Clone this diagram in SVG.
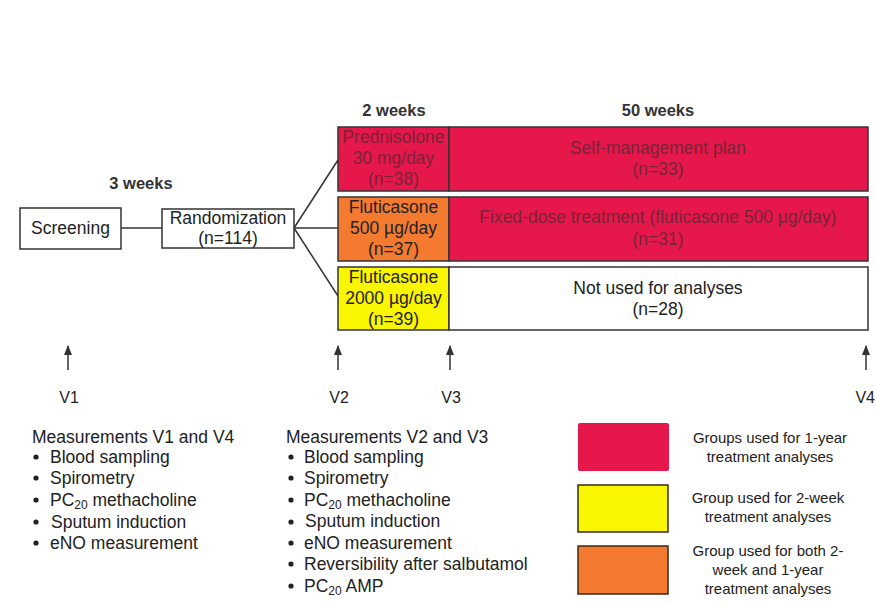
<svg xmlns="http://www.w3.org/2000/svg" width="875" height="605" viewBox="0 0 875 605">
<defs>
<style>
text{font-family:"Liberation Sans",Arial,sans-serif;fill:#222;}
.t{font-size:16px;text-anchor:middle;}
.b{font-size:17.5px;text-anchor:middle;}
.h{font-size:16.5px;font-weight:bold;text-anchor:middle;fill:#333;}
.r{fill:#7a2236;}
.box{stroke:#333;stroke-width:1.5;}
.line{stroke:#333;stroke-width:1.5;fill:none;}
.m{font-size:17.5px;}
.lg{font-size:15px;text-anchor:middle;}
</style>
<marker id="ah" markerWidth="10" markerHeight="8" refX="9" refY="4" orient="auto" markerUnits="userSpaceOnUse" viewBox="0 0 10 8">
<path d="M0,0 L10,4 L0,8 Z" fill="#333"/>
</marker>
</defs>
<rect width="875" height="605" fill="#fff"/>

<text class="h" x="141" y="189">3 weeks</text>
<text class="h" x="394" y="116">2 weeks</text>
<text class="h" x="658" y="116">50 weeks</text>

<g id="connectors">
<line class="line" x1="121" y1="228" x2="162" y2="228"/>
<line class="line" x1="294" y1="228" x2="338" y2="160"/>
<line class="line" x1="294" y1="228" x2="338" y2="228"/>
<line class="line" x1="294" y1="228" x2="338" y2="296"/>
<line class="line" x1="68" y1="370" x2="68" y2="346" marker-end="url(#ah)"/>
<line class="line" x1="338" y1="370" x2="338" y2="346" marker-end="url(#ah)"/>
<line class="line" x1="450" y1="370" x2="450" y2="346" marker-end="url(#ah)"/>
<line class="line" x1="866" y1="370" x2="866" y2="346" marker-end="url(#ah)"/>
</g>

<g id="screening">
<rect class="box" x="20" y="208" width="101" height="41" fill="#fff"/>
<text class="b" x="70.5" y="234">Screening</text>
</g>
<g id="randomization">
<rect class="box" x="162" y="209" width="132" height="39" fill="#fff"/>
<text class="b" x="228" y="224">Randomization</text>
<text class="b" x="228" y="244">(n=114)</text>
</g>

<g id="prednisolone">
<rect class="box" x="338" y="127" width="111" height="64" fill="#E6184B"/>
<text class="b r" x="393.5" y="143">Prednisolone</text>
<text class="b r" x="393.5" y="164">30 mg/day</text>
<text class="b r" x="393.5" y="185">(n=38)</text>
</g>
<g id="flut500">
<rect class="box" x="338" y="197" width="111" height="64" fill="#F47A30"/>
<text class="b" x="393.5" y="213">Fluticasone</text>
<text class="b" x="393.5" y="234">500 µg/day</text>
<text class="b" x="393.5" y="255">(n=37)</text>
</g>
<g id="flut2000">
<rect class="box" x="338" y="267" width="111" height="63" fill="#FAF500"/>
<text class="b" x="393.5" y="283">Fluticasone</text>
<text class="b" x="393.5" y="304">2000 µg/day</text>
<text class="b" x="393.5" y="325">(n=39)</text>
</g>
<g id="selfmanagement">
<rect class="box" x="449" y="127" width="419" height="64" fill="#E6184B"/>
<text class="b r" x="658" y="154">Self-management plan</text>
<text class="b r" x="658" y="175">(n=33)</text>
</g>
<g id="fixeddose">
<rect class="box" x="449" y="197" width="419" height="64" fill="#E6184B"/>
<text class="b r" x="658" y="223">Fixed-dose treatment (fluticasone 500 µg/day)</text>
<text class="b r" x="658" y="245">(n=31)</text>
</g>
<g id="notused">
<rect class="box" x="449" y="267" width="419" height="63" fill="#fff"/>
<text class="b" x="658" y="294">Not used for analyses</text>
<text class="b" x="658" y="315">(n=28)</text>
</g>

<g id="visits">
<text class="t" x="69" y="403">V1</text>
<text class="t" x="339" y="403">V2</text>
<text class="t" x="451" y="403">V3</text>
<text class="t" x="875" y="403" style="text-anchor:end">V4</text>
</g>

<g id="meas1" class="m">
<text x="32" y="443">Measurements V1 and V4</text>
<g fill="#222">
<circle cx="36" cy="457" r="2.6"/><circle cx="36" cy="478" r="2.6"/><circle cx="36" cy="500" r="2.6"/><circle cx="36" cy="522" r="2.6"/><circle cx="36" cy="543" r="2.6"/>
</g>
<text x="50" y="463">Blood sampling</text>
<text x="50" y="484">Spirometry</text>
<text x="50" y="506">PC<tspan font-size="12" dy="3">20</tspan><tspan dy="-3"> methacholine</tspan></text>
<text x="51" y="528">Sputum induction</text>
<text x="50" y="549">eNO measurement</text>
</g>
<g id="meas2" class="m">
<text x="286" y="443">Measurements V2 and V3</text>
<g fill="#222">
<circle cx="291" cy="457" r="2.6"/><circle cx="291" cy="478" r="2.6"/><circle cx="291" cy="500" r="2.6"/><circle cx="291" cy="522" r="2.6"/><circle cx="291" cy="543" r="2.6"/><circle cx="291" cy="564" r="2.6"/><circle cx="291" cy="586" r="2.6"/>
</g>
<text x="304" y="463">Blood sampling</text>
<text x="304" y="484">Spirometry</text>
<text x="304" y="506">PC<tspan font-size="12" dy="3">20</tspan><tspan dy="-3"> methacholine</tspan></text>
<text x="305" y="527">Sputum induction</text>
<text x="304" y="549">eNO measurement</text>
<text x="304" y="570">Reversibility after salbutamol</text>
<text x="304" y="592">PC<tspan font-size="12" dy="3">20</tspan><tspan dy="-3"> AMP</tspan></text>
</g>

<g id="legend">
<rect x="578" y="423" width="91" height="48" rx="2" fill="#E6184B"/>
<rect x="578" y="485" width="90" height="47" fill="#FAF500" stroke="#3a2a1a" stroke-width="1.5"/>
<rect x="578" y="546" width="90" height="48" fill="#F47A30" stroke="#3a2a1a" stroke-width="1.5"/>
<text class="lg" x="770" y="443">Groups used for 1-year</text>
<text class="lg" x="770" y="462">treatment analyses</text>
<text class="lg" x="768" y="503">Group used for 2-week</text>
<text class="lg" x="768" y="522">treatment analyses</text>
<text class="lg" x="768" y="556">Group used for both 2-</text>
<text class="lg" x="768" y="575">week and 1-year</text>
<text class="lg" x="768" y="594">treatment analyses</text>
</g>
</svg>
